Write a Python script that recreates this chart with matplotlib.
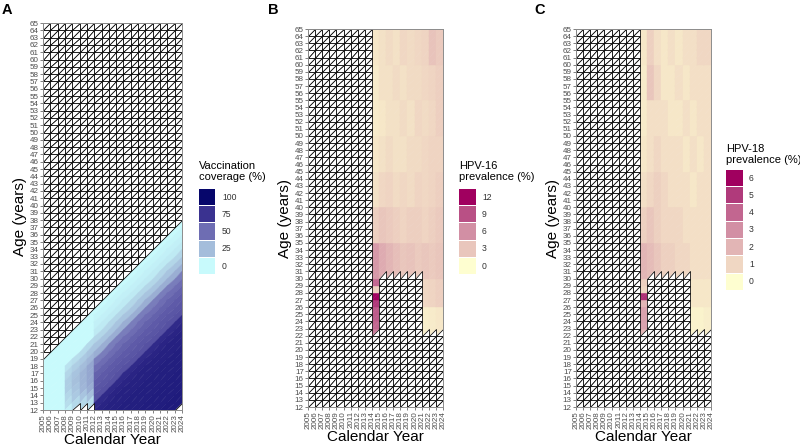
import numpy as np
import matplotlib
matplotlib.use("Agg")
import matplotlib.pyplot as plt
from matplotlib.collections import PolyCollection
from matplotlib.colors import LinearSegmentedColormap, Normalize
from matplotlib.patches import Rectangle

plt.rcParams['font.family'] = ['Liberation Sans', 'DejaVu Sans']

nan = np.nan
years = list(range(2005, 2025))     # grid vertices / x tick labels
ages = list(range(12, 66))          # grid vertices / y tick labels

# ---------------- A: vaccination coverage (%) by birth cohort ----------------
cohorts_a = list(range(1986, 2011))
cov_2012_on = [0, 2, 4, 7, 15, 22, 30, 45, 50, 55, 58, 60, 62,
               80, 83, 85, 85, 86, 86, 86, 87, 87, 87, 88, 88]
early_cohorts = list(range(1990, 2000))
cov_2008 = [10, 15, 18, 18, 15, 12, 5, 0, 0, 0]
cov_2009 = [12, 18, 22, 24, 22, 20, 14, 5, 0, 0]
cov_2010 = [13, 20, 25, 28, 28, 27, 22, 14, 4, 0]
cov_2011 = [14, 22, 27, 32, 32, 32, 30, 24, 12, 0]
missing_a = [(2009, 12, 'L'), (2010, 12, 'L'), (2011, 12, 'L')]

# ---------------- B / C: prevalence (%) by age band and year ----------------
prev_years = list(range(2014, 2024))
band_lo = [22, 26, 30, 35, 40, 45, 50, 55, 60]
band_hi = [25, 29, 34, 39, 44, 49, 54, 59, 64]
hpv16 = [
    [nan, nan, nan, nan, nan, nan, nan, 0.8, 1.0, 1.2],
    [nan, nan, nan, nan, nan, nan, nan, 2.0, 2.2, 2.5],
    [5.5, 4.5, 4.0, 3.5, 3.0, 3.2, 2.8, 3.0, 2.8, 3.0],
    [2.5, 3.0, 2.8, 2.5, 2.2, 2.5, 2.5, 2.2, 2.5, 2.8],
    [1.5, 2.0, 2.2, 1.8, 2.0, 1.8, 2.2, 2.0, 2.2, 2.5],
    [1.2, 1.5, 1.8, 1.5, 1.5, 1.8, 1.8, 2.0, 2.2, 2.2],
    [1.0, 1.2, 1.5, 1.5, 1.8, 1.5, 2.0, 1.8, 2.0, 2.5],
    [1.0, 1.5, 1.5, 1.8, 1.5, 1.8, 1.8, 2.0, 2.2, 2.5],
    [1.2, 1.5, 1.8, 1.5, 2.0, 1.8, 2.0, 2.2, 3.2, 2.8],
]
hpv18 = [
    [nan, nan, nan, nan, nan, nan, nan, 0.3, 0.3, 0.4],
    [nan, nan, nan, nan, nan, nan, nan, 0.6, 0.6, 0.6],
    [2.0, 1.8, 1.5, 1.2, 1.2, 1.0, 1.0, 0.8, 0.8, 0.8],
    [1.2, 1.5, 1.2, 1.0, 1.0, 1.0, 0.8, 0.8, 0.8, 0.8],
    [0.8, 1.0, 1.2, 1.0, 0.8, 0.8, 0.8, 0.6, 0.8, 0.8],
    [0.6, 0.8, 1.0, 0.8, 0.8, 0.8, 0.6, 0.8, 0.6, 0.8],
    [0.5, 0.8, 0.8, 0.8, 0.6, 0.6, 0.8, 0.6, 0.8, 0.8],
    [0.5, 1.5, 1.0, 0.6, 0.6, 0.8, 0.6, 0.8, 0.8, 0.8],
    [0.6, 1.2, 0.8, 0.6, 0.8, 0.6, 0.8, 0.8, 1.0, 1.0],
]
# single-age values for the 2014 column, ages 22..29
col2014_ages = list(range(22, 30))
hpv16_2014 = [7.0, 8.0, 8.5, 8.5, 10.0, 12.0, 2.5, 8.0]
hpv18_2014 = [2.0, 2.5, 2.5, 2.5, 2.0, 5.2, 1.0, 1.2]

cov_colors = ['#c8fafc', '#a4bddb', '#6e6db3', '#3b3390', '#06066b']
prev_colors = ['#fefed0', '#f0d7c3', '#e2b5b5', '#d28fa4', '#c26690', '#b03b7b', '#a0005f']
cmap_cov = LinearSegmentedColormap.from_list('cov', cov_colors)
cmap_prev = LinearSegmentedColormap.from_list('prev', prev_colors)


def coverage(y, a, tri):
    if (y, a, tri) in missing_a:
        return nan
    c = y - a - 1 if tri == 'U' else y - a
    if c not in cohorts_a:
        return nan
    if y < 2008:
        return 0
    if y >= 2012:
        return cov_2012_on[cohorts_a.index(c)]
    early = {2008: cov_2008, 2009: cov_2009, 2010: cov_2010, 2011: cov_2011}[y]
    if c in early_cohorts:
        return early[early_cohorts.index(c)]
    return 0


def prevalence(table, col2014):
    def f(y, a, tri):
        if y < 2014 or a < 22:
            return nan
        if a == 22 and tri == 'L':
            return nan
        if 2015 <= y <= 2020 and (a < 30 or (a == 30 and tri == 'L')):
            return nan
        if y == 2014 and a < 30:
            return col2014[col2014_ages.index(a)]
        for i in range(len(band_lo)):
            if band_lo[i] <= a <= band_hi[i]:
                return table[i][prev_years.index(y)]
        return nan
    return f


def draw_panel(ax, valfun, cmap, vmax):
    cpolys, cvals, hpolys = [], [], []
    for y in years[:-1]:
        for a in ages[:-1]:
            tris = {'U': [(y, a), (y, a + 1), (y + 1, a + 1)],
                    'L': [(y, a), (y + 1, a), (y + 1, a + 1)]}
            for t, pts in tris.items():
                v = valfun(y, a, t)
                if np.isnan(v):
                    hpolys.append(pts)
                else:
                    cpolys.append(pts)
                    cvals.append(v)
    pc = PolyCollection(cpolys, array=np.array(cvals), cmap=cmap,
                        norm=Normalize(0, vmax), edgecolors='face', linewidths=0.3)
    ax.add_collection(pc)
    ph = PolyCollection(hpolys, facecolors='white', edgecolors='black', linewidths=0.55)
    ax.add_collection(ph)
    ax.set_xlim(2005, 2024)
    ax.set_ylim(12, 65)
    ax.set_xticks(years)
    ax.set_xticklabels([str(v) for v in years], rotation=90)
    ax.set_yticks(ages)
    ax.set_yticklabels([str(v) for v in ages])
    ax.tick_params(labelsize=5.8, length=2, width=0.5, pad=1, colors='#4d4d4d', labelcolor='#4d4d4d')
    for s in ax.spines.values():
        s.set_color('#8c8c8c')
        s.set_linewidth(0.7)
    ax.set_xlabel('Calendar Year', fontsize=11, labelpad=1)
    ax.set_ylabel('Age (years)', fontsize=11, labelpad=2)


def draw_legend(fig, x, title_top, first_center, title, labels, colors):
    W, H = 800.0, 448.0
    fig.text(x / W, 1 - title_top / H, title, fontsize=8, va='top', ha='left', linespacing=1.15)
    for i, (lab, col) in enumerate(zip(labels, colors)):
        cy = first_center + 17.3 * i
        fig.add_artist(Rectangle((x / W, 1 - (cy + 8.2) / H), 16.5 / W, 16.4 / H,
                                 transform=fig.transFigure, facecolor=col, edgecolor='none'))
        fig.text((x + 23) / W, 1 - cy / H, lab, fontsize=6.2, va='center', ha='left', color='#333333')


fig = plt.figure(figsize=(8, 4.48), dpi=100)
W, H = 800.0, 448.0
axA = fig.add_axes([43 / W, 1 - 410 / H, 139 / W, 387 / H])
axB = fig.add_axes([308 / W, 1 - 407 / H, 135 / W, 378 / H])
axC = fig.add_axes([576 / W, 1 - 407 / H, 135 / W, 378 / H])

draw_panel(axA, coverage, cmap_cov, 100)
draw_panel(axB, prevalence(hpv16, hpv16_2014), cmap_prev, 12)
draw_panel(axC, prevalence(hpv18, hpv18_2014), cmap_prev, 6)

for lab, xp in [('A', 2), ('B', 268), ('C', 534)]:
    fig.text(xp / W, 1 - 3 / H, lab, fontsize=10.5, fontweight='bold', va='top', ha='left')

draw_legend(fig, 199, 161, 197, 'Vaccination\ncoverage (%)',
            ['100', '75', '50', '25', '0'], [cmap_cov(v / 100) for v in [100, 75, 50, 25, 0]])
draw_legend(fig, 459, 161, 197, 'HPV-16\nprevalence (%)',
            ['12', '9', '6', '3', '0'], [cmap_prev(v / 12) for v in [12, 9, 6, 3, 0]])
draw_legend(fig, 726, 144, 178, 'HPV-18\nprevalence (%)',
            ['6', '5', '4', '3', '2', '1', '0'], [cmap_prev(v / 6) for v in [6, 5, 4, 3, 2, 1, 0]])

fig.savefig('out.png', dpi=100)
